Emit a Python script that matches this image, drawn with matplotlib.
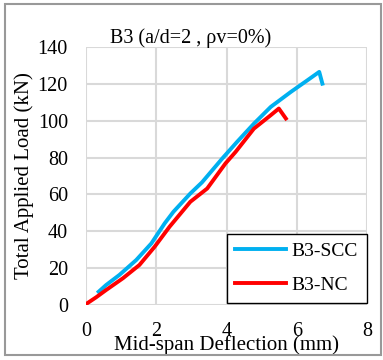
import matplotlib.pyplot as plt
from matplotlib.patches import Rectangle

plt.rcParams['font.family'] = ['Liberation Serif', 'DejaVu Serif']

# B3-SCC: deflection (mm), load (kN)
scc_x = [0.36, 0.57, 0.95, 1.43, 1.86, 2.24, 2.49, 2.97, 3.30, 3.88, 4.30, 4.78, 5.26, 5.83, 6.30, 6.64, 6.73]
scc_y = [7.2, 10.8, 16.3, 24.4, 33.4, 44.3, 50.6, 60.5, 66.5, 79.5, 88.5, 98.4, 107.5, 115.6, 121.9, 126.5, 120.1]

# B3-NC
nc_x = [0.0, 0.29, 0.57, 1.05, 1.52, 1.95, 2.38, 2.97, 3.45, 3.97, 4.26, 4.78, 5.26, 5.49, 5.69]
nc_y = [0.5, 4.2, 8.1, 14.5, 21.7, 31.5, 42.5, 56.0, 63.2, 76.8, 83.1, 95.7, 103.0, 106.6, 101.2]

x_ticks = [0, 2, 4, 6, 8]
y_ticks = [0, 20, 40, 60, 80, 100, 120, 140]

fig = plt.figure(figsize=(3.83, 3.6), dpi=100)
ax = fig.add_axes([86 / 383, 55 / 360, 281 / 383, 258 / 360])

ax.plot(scc_x, scc_y, color='#00b0f0', lw=2.8, label='B3-SCC')
ax.plot(nc_x, nc_y, color='#ff0000', lw=2.8, label='B3-NC')

ax.set_xlim(0, 8)
ax.set_ylim(0, 140)
ax.set_xticks(x_ticks)
ax.set_yticks(y_ticks)
ax.grid(color='#d9d9d9', lw=1.5)
ax.set_axisbelow(True)
for s in ax.spines.values():
    s.set_visible(False)
ax.tick_params(length=0, labelsize=14.5)
ax.tick_params(axis='y', pad=13)
ax.tick_params(axis='x', pad=12)

ax.set_xlabel('Mid-span Deflection (mm)', fontsize=15, va='center')
ax.xaxis.set_label_coords(0.5, (305 - 345) / 258)
ax.set_ylabel('Total Applied Load (kN)', fontsize=15, va='center')
ax.yaxis.set_label_coords((24 - 86) / 281, 0.5)

fig.text(110 / 383, 1 - 38 / 360, 'B3 (a/d=2 , ρv=0%)', fontsize=14.5, va='center', ha='left')

leg = ax.legend(loc='lower right', bbox_to_anchor=(1.0, 2 / 258), fontsize=14,
                frameon=True, fancybox=False, edgecolor='black', framealpha=1,
                handlelength=2.6, borderpad=0.45, labelspacing=0.85, handletextpad=0.3,
                borderaxespad=0)
leg.get_frame().set_linewidth(1.0)

fig.patches.append(Rectangle((5 / 383, 5 / 360), 376 / 383, 351 / 360, transform=fig.transFigure,
                             fill=False, edgecolor='#999999', lw=1.5))

fig.savefig('out.png', dpi=100)
